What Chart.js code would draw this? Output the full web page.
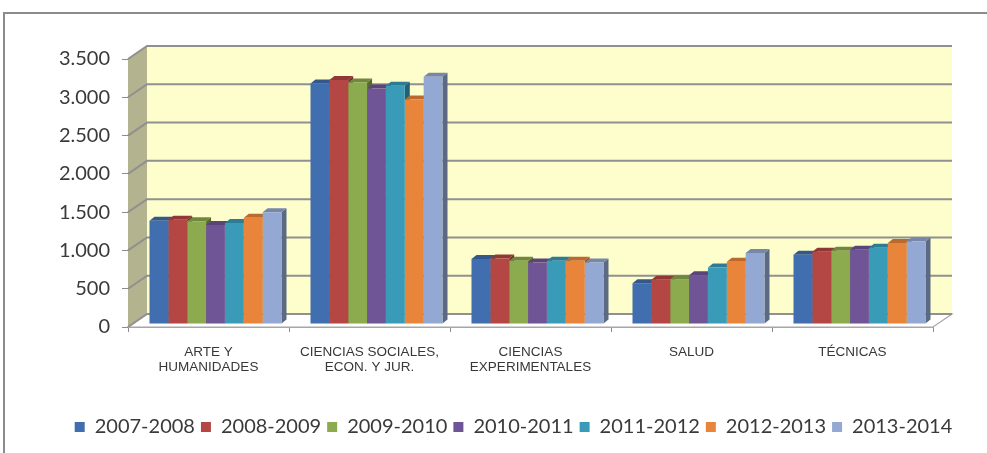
<!DOCTYPE html>
<html><head><meta charset="utf-8">
<script src="https://cdn.jsdelivr.net/npm/chart.js@4.4.1/dist/chart.umd.min.js"></script>
<style>html,body{margin:0;padding:0;background:#fff;}canvas{display:block;}</style>
</head><body>
<canvas id="c" width="987" height="453"></canvas>
<script>
const categories = [['ARTE Y','HUMANIDADES'],['CIENCIAS SOCIALES,','ECON. Y JUR.'],['CIENCIAS','EXPERIMENTALES'],'SALUD','TÉCNICAS'];
const seriesNames = ['2007-2008','2008-2009','2009-2010','2010-2011','2011-2012','2012-2013','2013-2014'];
const s2007_2008 = [1350, 3142, 848, 533, 905];
const s2008_2009 = [1360, 3186, 856, 577, 944];
const s2009_2010 = [1341, 3155, 826, 586, 957];
const s2010_2011 = [1294, 3077, 804, 638, 970];
const s2011_2012 = [1320, 3111, 826, 738, 996];
const s2012_2013 = [1386, 2933, 826, 813, 1058];
const s2013_2014 = [1459, 3229, 804, 927, 1079];
const yTickValues = [0, 500, 1000, 1500, 2000, 2500, 3000, 3500];
const yTickLabels = ['0', '500', '1.000', '1.500', '2.000', '2.500', '3.000', '3.500'];
const seriesColors = ['#416EAF', '#B44644', '#8CAA4E', '#705596', '#3A9BB9', '#E9853A', '#93A9D4'];

const allSeries = [s2007_2008, s2008_2009, s2009_2010, s2010_2011, s2011_2012, s2012_2013, s2013_2014];

function shade(hex, f) {
  const n = parseInt(hex.slice(1), 16);
  let r = (n >> 16) & 255, g = (n >> 8) & 255, b = n & 255;
  r = Math.round(r * f); g = Math.round(g * f); b = Math.round(b * f);
  return 'rgb(' + r + ',' + g + ',' + b + ')';
}

const WALL_DX = 19, WALL_DY = -13;
const BAR_SHIFT_X = 7, BAR_SHIFT_Y = -3;
const BAR_DX = 5, BAR_DY = -4;

const pseudo3d = {
  id: 'pseudo3d',
  beforeDraw(chart) {
    const ctx = chart.ctx, a = chart.chartArea, ys = chart.scales.y;
    ctx.save();
    ctx.fillStyle = '#FEFECC';
    ctx.fillRect(a.left + WALL_DX, a.top + WALL_DY, a.right - a.left, a.bottom - a.top);
    ctx.fillStyle = '#B4B38F';
    ctx.beginPath();
    ctx.moveTo(a.left, a.top);
    ctx.lineTo(a.left + WALL_DX, a.top + WALL_DY);
    ctx.lineTo(a.left + WALL_DX, a.bottom + WALL_DY);
    ctx.lineTo(a.left, a.bottom);
    ctx.closePath();
    ctx.fill();
    ctx.fillStyle = '#FFFFFF';
    ctx.strokeStyle = '#A6A6A6';
    ctx.lineWidth = 1.2;
    ctx.beginPath();
    ctx.moveTo(a.left, a.bottom);
    ctx.lineTo(a.right, a.bottom);
    ctx.lineTo(a.right + WALL_DX, a.bottom + WALL_DY);
    ctx.lineTo(a.left + WALL_DX, a.bottom + WALL_DY);
    ctx.closePath();
    ctx.fill();
    ctx.stroke();
    ctx.strokeStyle = '#909090';
    ctx.lineWidth = 2;
    yTickValues.forEach(v => {
      const y = ys.getPixelForValue(v);
      ctx.beginPath();
      ctx.moveTo(a.left, y);
      ctx.lineTo(a.left + WALL_DX, y + WALL_DY);
      ctx.lineTo(a.right + WALL_DX, y + WALL_DY);
      ctx.stroke();
    });
    ctx.restore();
  },
  beforeDatasetsDraw(chart) {
    const ctx = chart.ctx;
    ctx.save();
    ctx.translate(BAR_SHIFT_X, BAR_SHIFT_Y);
    const metas = chart.data.datasets.map((d, i) => chart.getDatasetMeta(i));
    for (let c = 0; c < categories.length; c++) {
      metas.forEach((m, j) => {
        const el = m.data[c];
        if (!el) return;
        const col = seriesColors[j];
        const l = el.x - el.width / 2, r = el.x + el.width / 2, y = el.y, b = el.base;
        ctx.fillStyle = shade(col, 0.62);
        ctx.beginPath();
        ctx.moveTo(r, y); ctx.lineTo(r + BAR_DX, y + BAR_DY);
        ctx.lineTo(r + BAR_DX, b + BAR_DY); ctx.lineTo(r, b);
        ctx.closePath(); ctx.fill();
        ctx.fillStyle = shade(col, 0.8);
        ctx.beginPath();
        ctx.moveTo(l, y); ctx.lineTo(r, y);
        ctx.lineTo(r + BAR_DX, y + BAR_DY); ctx.lineTo(l + BAR_DX, y + BAR_DY);
        ctx.closePath(); ctx.fill();
      });
    }
  },
  afterDatasetsDraw(chart) {
    chart.ctx.restore();
  },
  afterDraw(chart) {
    const ctx = chart.ctx;
    ctx.save();
    ctx.strokeStyle = '#8C8C8C';
    ctx.lineWidth = 2;
    ctx.beginPath();
    ctx.moveTo(4, 460); ctx.lineTo(4, 13); ctx.lineTo(995, 13);
    ctx.stroke();
    ctx.restore();
  }
};

const datasets = seriesNames.map((name, i) => ({
  label: name,
  data: allSeries[i],
  backgroundColor: seriesColors[i],
  borderWidth: 0,
  categoryPercentage: 0.82,
  barPercentage: 1.0,
  clip: false
}));

new Chart(document.getElementById('c'), {
  type: 'bar',
  data: { labels: categories, datasets },
  plugins: [pseudo3d],
  options: {
    responsive: false,
    animation: false,
    devicePixelRatio: 1,
    layout: { padding: { left: 40, right: 0, top: 59, bottom: 6 } },
    plugins: {
      tooltip: { enabled: false },
      legend: {
        position: 'bottom',
        labels: {
          boxWidth: 10, boxHeight: 10, padding: 6,
          color: '#3A3A3A',
          font: { family: 'Lato', size: 20 }
        }
      }
    },
    scales: {
      x: {
        grid: { display: true, drawOnChartArea: false, drawTicks: true, tickLength: 5, color: '#8C8C8C', offset: true },
        border: { display: true, color: '#A6A6A6', width: 1 },
        ticks: {
          color: '#383838', padding: 13, maxRotation: 0, autoSkip: false,
          font: { family: 'Liberation Sans', size: 13.5, lineHeight: 1.12 }
        },
        afterFit(s) { s.height = 84; }
      },
      y: {
        min: 0, max: 3500,
        grid: { display: true, drawOnChartArea: false, drawTicks: true, tickLength: 6, color: '#8C8C8C' },
        border: { display: false },
        ticks: {
          stepSize: 500, padding: 12, color: '#3A3A3A',
          font: { family: 'Lato', size: 20 },
          callback: (v) => { const k = yTickValues.indexOf(v); return k >= 0 ? yTickLabels[k] : ''; }
        },
        afterFit(s) { s.width = 88; }
      },
      yRight: {
        position: 'right', display: true,
        grid: { display: false }, border: { display: false },
        ticks: { display: false },
        afterFit(s) { s.width = 54; }
      }
    }
  }
});
</script>
</body></html>
